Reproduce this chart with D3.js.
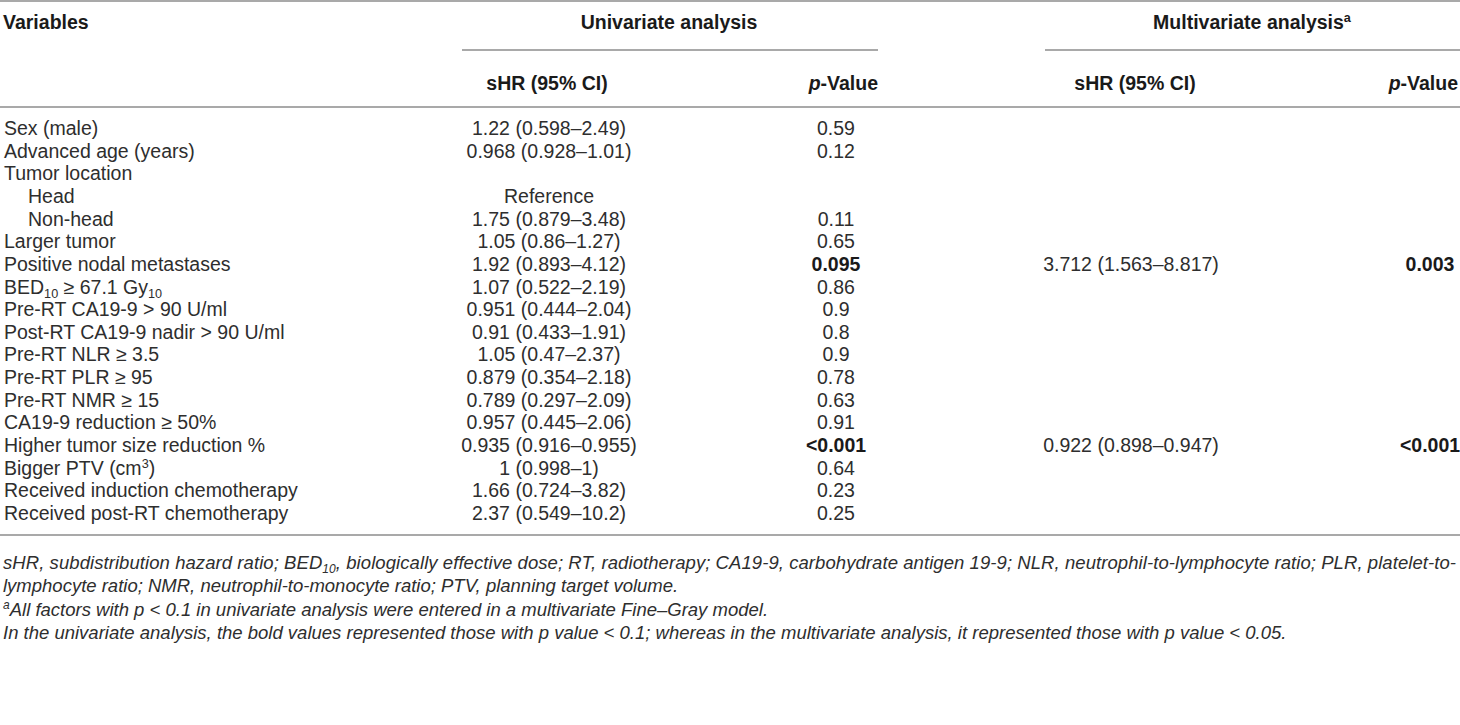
<!DOCTYPE html>
<html>
<head>
<meta charset="utf-8">
<script src="https://cdn.jsdelivr.net/npm/d3@7"></script>
<style>
  body { margin: 0; background: #fff; }
  svg text { font-family: "Liberation Sans", Arial, sans-serif; fill: #2e2e2e; }
  svg text.head { fill: #1a1a1a; }
</style>
</head>
<body>
<svg id="tbl" width="1460" height="725"></svg>
<script>
// table values
var variables = [
  "Sex (male)", "Advanced age (years)", "Tumor location", "Head", "Non-head",
  "Larger tumor", "Positive nodal metastases", "BED|10| ≥ 67.1 Gy|10|",
  "Pre-RT CA19-9 > 90 U/ml", "Post-RT CA19-9 nadir > 90 U/ml", "Pre-RT NLR ≥ 3.5",
  "Pre-RT PLR ≥ 95", "Pre-RT NMR ≥ 15", "CA19-9 reduction ≥ 50%",
  "Higher tumor size reduction %", "Bigger PTV (cm^3^)", "Received induction chemotherapy",
  "Received post-RT chemotherapy"
];
var indented = [false, false, false, true, true, false, false, false, false, false, false, false, false, false, false, false, false, false];
var uniHR = [
  "1.22 (0.598–2.49)", "0.968 (0.928–1.01)", "", "Reference", "1.75 (0.879–3.48)",
  "1.05 (0.86–1.27)", "1.92 (0.893–4.12)", "1.07 (0.522–2.19)", "0.951 (0.444–2.04)",
  "0.91 (0.433–1.91)", "1.05 (0.47–2.37)", "0.879 (0.354–2.18)", "0.789 (0.297–2.09)",
  "0.957 (0.445–2.06)", "0.935 (0.916–0.955)", "1 (0.998–1)", "1.66 (0.724–3.82)",
  "2.37 (0.549–10.2)"
];
var uniP = ["0.59", "0.12", "", "", "0.11", "0.65", "0.095", "0.86", "0.9", "0.8", "0.9",
  "0.78", "0.63", "0.91", "<0.001", "0.64", "0.23", "0.25"];
var multiHR = ["", "", "", "", "", "", "3.712 (1.563–8.817)", "", "", "", "", "", "", "",
  "0.922 (0.898–0.947)", "", "", ""];
var multiP = ["", "", "", "", "", "", "0.003", "", "", "", "", "", "", "", "<0.001", "", "", ""];
var footnotes = [
  "sHR, subdistribution hazard ratio; BED|10|, biologically effective dose; RT, radiotherapy; CA19-9, carbohydrate antigen 19-9; NLR, neutrophil-to-lymphocyte ratio; PLR, platelet-to-",
  "lymphocyte ratio; NMR, neutrophil-to-monocyte ratio; PTV, planning target volume.",
  "^a^All factors with p < 0.1 in univariate analysis were entered in a multivariate Fine–Gray model.",
  "In the univariate analysis, the bold values represented those with p value < 0.1; whereas in the multivariate analysis, it represented those with p value < 0.05."
];

var W = 1460;
var svg = d3.select("#tbl");
var fs = 19.5;   // body size
var fsn = 18.5;  // footnote size

// write a string with |sub| and ^sup^ markers as tspans
function rich(sel, str, size) {
  var parts = str.split(/(\|[^|]*\||\^[^^]*\^)/);
  var back = 0;
  parts.forEach(function(p) {
    if (!p) return;
    var t;
    if (p[0] == "|") {
      t = sel.append("tspan").attr("dy", back + 4).attr("font-size", size * 0.65).text(p.slice(1, -1));
      back = -4;
    } else if (p[0] == "^") {
      t = sel.append("tspan").attr("dy", back - 7).attr("font-size", size * 0.65).text(p.slice(1, -1));
      back = 7;
    } else {
      t = sel.append("tspan").text(p);
      if (back) t.attr("dy", back);
      back = 0;
    }
  });
}

var y = d3.scalePoint().domain(d3.range(variables.length)).range([128, 513]);
var col = d3.scaleOrdinal()
  .domain(["var", "uniHR", "uniP", "multiHR", "multiP"])
  .range([4, 549, 836, 1131, 1430]);

function rule(x1, x2, yy) {
  svg.append("line").attr("x1", x1).attr("x2", x2).attr("y1", yy).attr("y2", yy)
    .attr("stroke", "#8c8c8c").attr("stroke-width", 1.5);
}
rule(0, W, 1);
rule(462, 878, 50);
rule(1045, W, 50);
rule(0, W, 107);
rule(0, W, 535);

// header
var base = 7;
function head(x, yy, anchor) {
  return svg.append("text").attr("class", "head").attr("x", x).attr("y", yy + base)
    .attr("text-anchor", anchor).attr("font-size", fs).attr("font-weight", "bold");
}
head(3, 22, "start").text("Variables");
head(669, 22, "middle").text("Univariate analysis");
rich(head(1252, 22, "middle"), "Multivariate analysis^a^", fs);
head(547, 83, "middle").text("sHR (95% CI)");
head(1135, 83, "middle").text("sHR (95% CI)");
[878, 1458].forEach(function(xr) {
  var t = head(xr, 83, "end");
  t.append("tspan").attr("font-style", "italic").text("p");
  t.append("tspan").text("-Value");
});

// body rows
var rows = svg.selectAll("g.row").data(variables).enter().append("g").attr("class", "row")
  .attr("transform", function(d, i) { return "translate(0," + (y(i) + base) + ")"; });

rows.append("text")
  .attr("x", function(d, i) { return col("var") + (indented[i] ? 24 : 0); })
  .attr("font-size", fs)
  .each(function(d) { rich(d3.select(this), d, fs); });

rows.append("text").attr("x", col("uniHR")).attr("text-anchor", "middle").attr("font-size", fs)
  .text(function(d, i) { return uniHR[i]; });
rows.append("text").attr("x", col("uniP")).attr("text-anchor", "middle").attr("font-size", fs)
  .attr("class", function(d, i) { return (uniP[i] && (uniP[i][0] == "<" || +uniP[i] < 0.1)) ? "head" : null; })
  .attr("font-weight", function(d, i) { return (uniP[i] && (uniP[i][0] == "<" || +uniP[i] < 0.1)) ? "bold" : null; })
  .text(function(d, i) { return uniP[i]; });
rows.append("text").attr("x", col("multiHR")).attr("text-anchor", "middle").attr("font-size", fs)
  .text(function(d, i) { return multiHR[i]; });
rows.append("text").attr("class", "head").attr("x", col("multiP")).attr("text-anchor", "middle").attr("font-size", fs)
  .attr("font-weight", "bold")
  .text(function(d, i) { return multiP[i]; });

// footnotes
var fy = [562, 585, 609, 632];
footnotes.forEach(function(f, i) {
  var t = svg.append("text").attr("x", 3).attr("y", fy[i] + base).attr("font-size", fsn).attr("font-style", "italic");
  if (i == 0) t.attr("textLength", 1453).attr("lengthAdjust", "spacing");
  rich(t, f, fsn);
});
</script>
</body>
</html>
